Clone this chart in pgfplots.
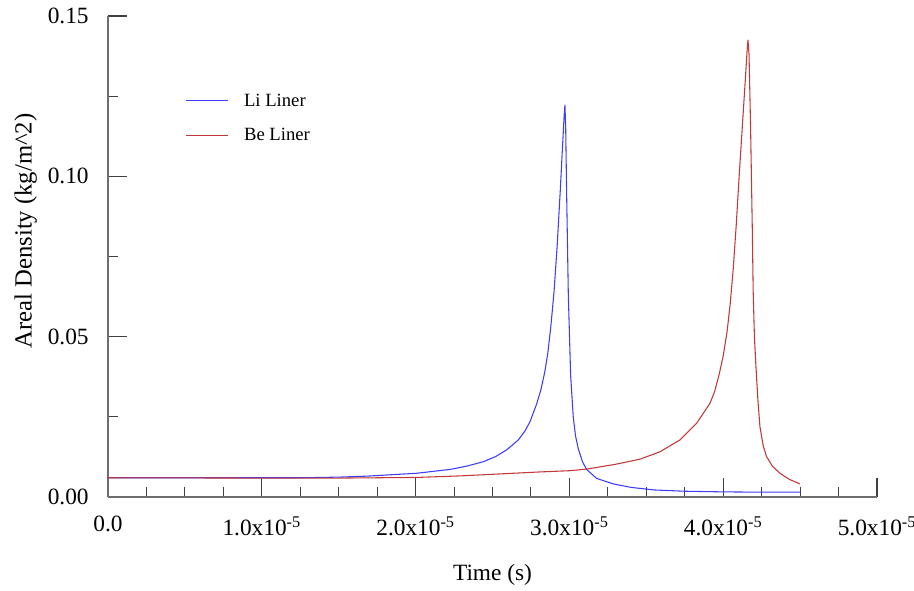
\documentclass[border=0pt]{standalone}
\usepackage{pgfplots}
\pgfplotsset{compat=1.18}
\usepackage{fontspec}
\setmainfont{Liberation Serif}
\definecolor{liblue}{RGB}{60,60,250}
\definecolor{bered}{RGB}{195,55,55}
\definecolor{axgray}{RGB}{110,110,110}
\begin{document}
\begin{tikzpicture}
\path[use as bounding box] (-81pt,-69.75pt) rectangle (604.5pt,372.75pt);
\begin{axis}[
  at={(0pt,0pt)}, anchor=south west,
  scale only axis, width=576.75pt, height=360.75pt,
  xmin=0, xmax=5, ymin=0, ymax=0.15,
  axis x line*=bottom, axis y line*=left,
  axis line style={axgray, line width=0.9pt},
  every axis plot/.append style={line width=0.8pt, line join=round},
  tick align=inside,
  major tick length=14pt, minor tick length=7.5pt,
  tick style={black!75, line width=0.8pt},
  xtick={0,1,2,3,4,5},
  minor xtick={0.25,0.5,0.75,1.25,1.5,1.75,2.25,2.5,2.75,3.25,3.5,3.75,4.25,4.5,4.75},
  xticklabels={0.0, 1.0x10\textsuperscript{-5}, 2.0x10\textsuperscript{-5}, 3.0x10\textsuperscript{-5}, 4.0x10\textsuperscript{-5}, 5.0x10\textsuperscript{-5}},
  ytick={0,0.05,0.1,0.15},
  minor ytick={0.025,0.075,0.125},
  yticklabels={0.00,0.05,0.10,0.15},
  ticklabel style={font=\fontsize{17.5}{20}\selectfont},
  xticklabel style={yshift=-11pt},
  yticklabel style={xshift=-11pt},
  xlabel={Time (s)},
  ylabel={Areal Density (kg/m\textasciicircum 2)},
  xlabel style={font=\fontsize{17.5}{20}\selectfont, at={(axis description cs:0.5,-0.162)}, anchor=center},
  ylabel style={font=\fontsize{18.5}{21}\selectfont, at={(axis description cs:-0.107,0.553)}, anchor=center},
  legend style={draw=none, fill=none, at={(axis description cs:0.095,0.85)}, anchor=north west,
    font=\fontsize{14}{17}\selectfont, row sep=11pt},
  legend cell align=left,
  legend image code/.code={\draw[#1] (0cm,0cm) -- (1.1cm,0cm); \path (1.45cm,0cm);},
]
\addplot[liblue] coordinates {
(0,0.0060) (0.5,0.0060) (1.0,0.0060) (1.25,0.0060) (1.5,0.0062) (1.682,0.0065) (2.006,0.0074)
(2.224,0.0086) (2.33,0.0096) (2.44,0.0110) (2.52,0.0126) (2.592,0.0147) (2.668,0.0178)
(2.71,0.0205) (2.744,0.0235) (2.787,0.0290) (2.815,0.0335) (2.840,0.0390) (2.860,0.0450)
(2.880,0.0535) (2.900,0.0640) (2.920,0.0780) (2.940,0.0950) (2.955,0.1090) (2.966,0.1190)
(2.971,0.1222) (2.976,0.1150) (2.982,0.0947) (2.993,0.0630) (3.008,0.0380) (3.025,0.0250)
(3.040,0.0190) (3.058,0.0150) (3.085,0.0110) (3.112,0.0086) (3.177,0.0058) (3.285,0.0041)
(3.40,0.0030) (3.55,0.0022) (3.75,0.0018) (4.0,0.0016) (4.25,0.0015) (4.499,0.0015)
};
\addlegendentry{Li Liner}
\addplot[bered] coordinates {
(0,0.0060) (1.0,0.0059) (1.5,0.0059) (2.006,0.0061) (2.3,0.0066) (2.549,0.0072) (2.8,0.0078)
(3.0,0.0082) (3.112,0.0087) (3.3,0.0102) (3.459,0.0118) (3.589,0.0141) (3.719,0.0178)
(3.827,0.0230) (3.914,0.0292) (3.945,0.0330) (3.975,0.0385) (4.000,0.0440) (4.025,0.0515)
(4.045,0.0600) (4.065,0.0710) (4.085,0.0850) (4.105,0.1010) (4.125,0.1160) (4.145,0.1310)
(4.155,0.1390) (4.161,0.1425) (4.168,0.1380) (4.178,0.1155) (4.189,0.0843) (4.195,0.0640)
(4.203,0.0500) (4.213,0.0406) (4.226,0.0300) (4.239,0.0219) (4.26,0.0160) (4.282,0.0126)
(4.32,0.0096) (4.369,0.0074) (4.43,0.0055) (4.499,0.0041)
};
\addlegendentry{Be Liner}
\end{axis}
\end{tikzpicture}
\end{document}
